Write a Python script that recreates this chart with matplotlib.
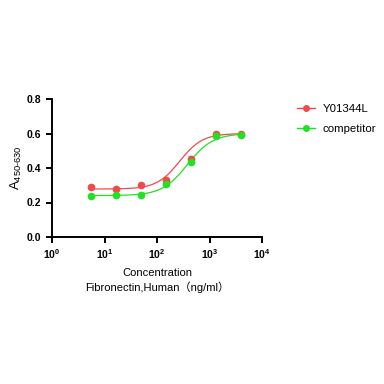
import numpy as np
import matplotlib.pyplot as plt
from matplotlib.lines import Line2D

plt.rcParams['font.family'] = ['Liberation Sans', 'Noto Sans CJK SC', 'DejaVu Sans']
plt.rcParams['mathtext.fontset'] = 'custom'
plt.rcParams['mathtext.rm'] = 'Liberation Sans'
plt.rcParams['mathtext.bf'] = 'Liberation Sans:bold'

conc = [5.5, 16.5, 49.4, 148, 444, 1333, 4000]
red_y = [0.292, 0.280, 0.300, 0.328, 0.455, 0.598, 0.598]
red_err = [0.012, 0.010, 0.006, 0.006, 0.012, 0.006, 0.006]
green_y = [0.240, 0.243, 0.245, 0.305, 0.437, 0.586, 0.590]
green_err = [0.004, 0.004, 0.004, 0.004, 0.006, 0.004, 0.004]

# 4PL fit parameters: bottom, top, ec50, hill
red_fit = [0.278, 0.600, 270, 2.0]
green_fit = [0.240, 0.600, 380, 1.8]

red_c = '#f24a4a'
green_c = '#22e022'


def four_pl(x, p):
    b, t, ec, h = p
    return b + (t - b) / (1 + (ec / x) ** h)


fig = plt.figure(figsize=(3.84, 3.84), dpi=100)
ax = fig.add_axes([52 / 384, 1 - 237 / 384, 210 / 384, 138 / 384])

xs = np.logspace(np.log10(5.5), np.log10(4000), 300)
ax.plot(xs, four_pl(xs, red_fit), color=red_c, lw=0.9)
ax.plot(xs, four_pl(xs, green_fit), color=green_c, lw=0.9)
ax.errorbar(conc, red_y, yerr=red_err, fmt='o', color=red_c, ms=4.5,
            ecolor='#f59a9a', capsize=2.5, elinewidth=1)
ax.errorbar(conc, green_y, yerr=green_err, fmt='o', color=green_c, ms=4.5,
            ecolor='#8af08a', capsize=2.5, elinewidth=1)

ax.set_xscale('log')
ax.set_xlim(1, 1e4)
ax.set_ylim(0, 0.8)
ax.set_yticks([0, 0.2, 0.4, 0.6, 0.8])
ax.set_yticklabels(['0.0', '0.2', '0.4', '0.6', '0.8'])
ax.set_xticks([1, 10, 100, 1000, 10000])
ax.set_xticklabels(['$\\mathbf{10^0}$', '$\\mathbf{10^1}$', '$\\mathbf{10^2}$',
                    '$\\mathbf{10^3}$', '$\\mathbf{10^4}$'])
ax.minorticks_off()
for s in ['top', 'right']:
    ax.spines[s].set_visible(False)
for s in ['left', 'bottom']:
    ax.spines[s].set_linewidth(1.4)
ax.tick_params(width=1.4, length=4, labelsize=7.5)
for lab in ax.get_yticklabels():
    lab.set_fontweight('bold')

ax.set_ylabel('A$_{450\\text{-}630}$', fontsize=9.5, labelpad=2)
ax.set_xlabel('Concentration\nFibronectin,Human\uff08ng/ml\uff09', fontsize=8,
              labelpad=5, linespacing=1.4)

handles = [Line2D([], [], color=red_c, marker='o', ms=4, lw=1),
           Line2D([], [], color=green_c, marker='o', ms=4, lw=1)]
ax.legend(handles, ['Y01344L', 'competitor'], loc='upper left',
          bbox_to_anchor=(1.12, 1.04), frameon=False, fontsize=8.2,
          handlelength=1.5, handletextpad=0.7, labelspacing=0.9)

fig.savefig('out.png', dpi=100)
